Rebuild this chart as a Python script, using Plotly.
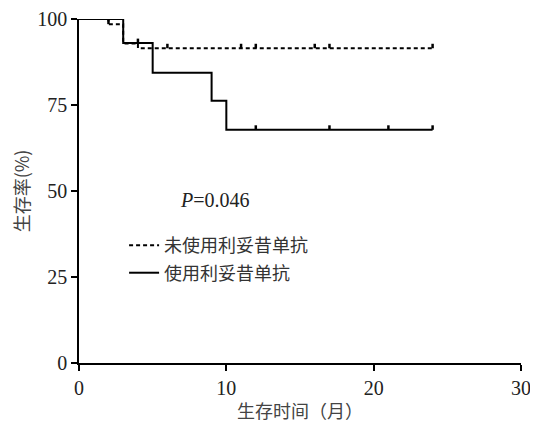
import plotly.graph_objects as go

# Kaplan-Meier step data (months, survival %)
no_ritux_t = [0, 2, 3, 4, 24]
no_ritux_s = [100, 98.5, 92.9, 91.5, 91.5]
no_ritux_censor_t = [2, 6, 11, 12, 16, 17, 24]

ritux_t = [0, 3, 5, 9, 10, 24]
ritux_s = [100, 93.0, 84.4, 76.2, 67.8, 67.8]
ritux_censor_t = [2, 4, 12, 17, 21, 24]

x_ticks = [0, 10, 20, 30]
y_ticks = [0, 25, 50, 75, 100]

name_no = "未使用利妥昔单抗"
name_yes = "使用利妥昔单抗"
p_text = "<i>P</i>=0.046"
x_title = "生存时间（月）"
y_title = "生存率(%)"

TICK_H = 1.3  # censor tick height (data units)
FONT = "Liberation Serif, Noto Sans CJK SC, serif"
CJK = "Noto Sans CJK SC, sans-serif"


def step_value(ts, ss, t):
    v = ss[0]
    for ti, si in zip(ts, ss):
        if ti <= t:
            v = si
    return v


def censor_segments(ts, ss, cts):
    xs, ys = [], []
    for c in cts:
        s = step_value(ts, ss, c)
        xs += [c, c, None]
        ys += [s, s + TICK_H, None]
    return xs, ys


fig = go.Figure()

fig.add_trace(go.Scatter(x=no_ritux_t, y=no_ritux_s, mode="lines", name=name_no,
                         legendgroup="a",
                         line=dict(color="black", width=2, dash="4px,3px", shape="hv")))
fig.add_trace(go.Scatter(x=ritux_t, y=ritux_s, mode="lines", name=name_yes,
                         legendgroup="b",
                         line=dict(color="black", width=2, shape="hv")))

cx, cy = censor_segments(no_ritux_t, no_ritux_s, no_ritux_censor_t)
fig.add_trace(go.Scatter(x=cx, y=cy, mode="lines", showlegend=False,
                         line=dict(color="black", width=2.5)))
cx, cy = censor_segments(ritux_t, ritux_s, ritux_censor_t)
fig.add_trace(go.Scatter(x=cx, y=cy, mode="lines", showlegend=False,
                         line=dict(color="black", width=2.5)))

fig.add_annotation(x=6.7, y=47.4, text=p_text, showarrow=False, xanchor="left",
                   yanchor="middle", font=dict(family=FONT, size=20, color="#222"))

fig.update_layout(
    width=530, height=418,
    margin=dict(l=71, r=17, t=11, b=63),
    paper_bgcolor="white", plot_bgcolor="white",
    font=dict(family=FONT, size=20, color="#222"),
    showlegend=True,
    legend=dict(x=0.102, y=0.395, xanchor="left", yanchor="top",
                bgcolor="rgba(0,0,0,0)", font=dict(family=CJK, size=18, color="#333"),
                tracegroupgap=1, itemwidth=30),
    xaxis=dict(range=[0, 30], tickvals=x_ticks, showgrid=False, zeroline=False,
               automargin=False,
               showline=True, linecolor="black", linewidth=1.5, ticks="outside",
               ticklen=6, tickwidth=1.5, tickcolor="black",
               title=dict(text=x_title, font=dict(family=CJK, size=18, color="#444"), standoff=8)),
    yaxis=dict(range=[0, 100], tickvals=y_ticks, showgrid=False, zeroline=False,
               automargin=False,
               showline=True, linecolor="black", linewidth=1.5, ticks="outside",
               ticklen=6, tickwidth=1.5, tickcolor="black",
               title=dict(text=y_title, font=dict(family=CJK, size=18, color="#444"), standoff=8)),
)

fig.write_html("out.html")
